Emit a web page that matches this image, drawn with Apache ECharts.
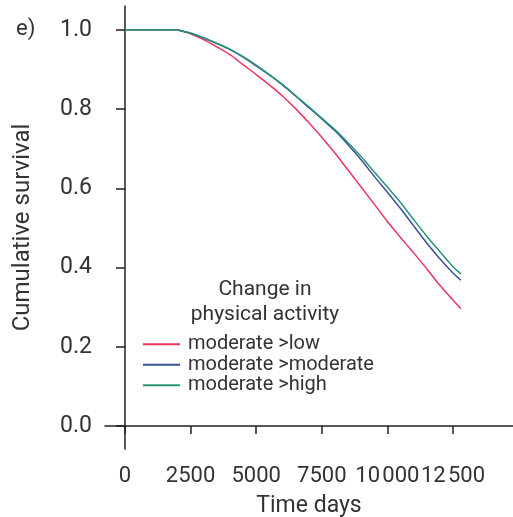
<!DOCTYPE html>
<html>
<head>
<meta charset="utf-8">
<script src="https://cdn.jsdelivr.net/npm/echarts@6/dist/echarts.min.js"></script>
<style>html,body{margin:0;padding:0;background:#fff}#c{width:513px;height:517px}</style>
</head>
<body>
<div id="c"></div>
<script>
var days = [0, 2000, 2100, 2500, 3000, 3500, 4000, 4500, 5000, 5500, 6000, 6500, 7000, 7500, 8000, 8500, 9000, 9500, 10000, 10500, 11000, 11500, 12000, 12500, 12800];
var lowSurv = [1.0, 1.0, 0.998, 0.99, 0.975, 0.957, 0.937, 0.912, 0.887, 0.861, 0.833, 0.801, 0.766, 0.729, 0.689, 0.646, 0.603, 0.560, 0.516, 0.476, 0.437, 0.397, 0.355, 0.318, 0.296];
var modSurv = [1.0, 1.0, 0.998, 0.991, 0.979, 0.965, 0.950, 0.931, 0.909, 0.886, 0.861, 0.833, 0.804, 0.775, 0.745, 0.710, 0.672, 0.630, 0.590, 0.549, 0.505, 0.462, 0.422, 0.386, 0.368];
var highSurv = [1.0, 1.0, 0.998, 0.992, 0.980, 0.966, 0.951, 0.932, 0.911, 0.887, 0.862, 0.834, 0.806, 0.777, 0.748, 0.715, 0.680, 0.641, 0.603, 0.564, 0.521, 0.479, 0.440, 0.402, 0.384];
var xTicks = [0, 2500, 5000, 7500, 10000, 12500];
var xTickLabels = ['0', '2500', '5000', '7500', '10\u200A000', '12\u200A500'];
var yTicks = [0, 0.2, 0.4, 0.6, 0.8, 1.0];
var seriesNames = ['moderate >low', 'moderate >moderate', 'moderate >high'];
var colors = ['#e8365c', '#3d4f9f', '#2a9477'];

function pairs(v){ return days.map(function(d,i){ return [d, v[i]]; }); }
var font = 'Roboto, "DejaVu Sans", sans-serif';
var txt = '#333';
var chart = echarts.init(document.getElementById('c'), null, {renderer: 'canvas'});
chart.setOption({
  animation: false,
  color: colors,
  grid: {left: 105, right: 0, top: 6, bottom: 68, containLabel: false, outerBoundsMode: 'none'},
  xAxis: {
    type: 'value', min: -762, max: 14787,
    name: 'Time days', nameLocation: 'middle', nameGap: 46,
    nameTextStyle: {fontFamily: font, fontSize: 23, color: txt},
    axisLine: {show: true, lineStyle: {color: '#222', width: 1.5}},
    axisTick: {show: true, customValues: xTicks, length: 8, lineStyle: {color: '#222', width: 1.5}},
    axisLabel: {customValues: xTicks, margin: 16, hideOverlap: false, showMinLabel: null, showMaxLabel: null,
      fontFamily: font, fontSize: 22, color: txt,
      formatter: function(v){ var i = xTicks.indexOf(v); return i >= 0 ? xTickLabels[i] : ''; }},
    splitLine: {show: false}
  },
  yAxis: {
    type: 'value', min: -0.058, max: 1.06,
    name: 'Cumulative survival', nameLocation: 'middle', nameGap: 70, nameRotate: 90,
    nameTextStyle: {fontFamily: font, fontSize: 24, color: txt},
    axisLine: {show: true, lineStyle: {color: '#222', width: 1.5}},
    axisTick: {show: true, customValues: yTicks, length: 9, lineStyle: {color: '#222', width: 1.5}},
    axisLabel: {customValues: yTicks, margin: 13, fontFamily: font, fontSize: 23, color: txt,
      formatter: function(v){ return v.toFixed(1); }},
    splitLine: {show: false}
  },
  legend: {
    orient: 'vertical', left: 143, top: 334, itemWidth: 37, itemHeight: 2, itemGap: 0,
    icon: 'rect',
    data: seriesNames,
    textStyle: {fontFamily: font, fontSize: 20, color: txt, lineHeight: 20.5, height: 20.5, padding: [0,0,0,3]},
    padding: 0
  },
  graphic: [
    {type: 'text', left: 16, top: 18, style: {text: 'e)', fontFamily: font, fontSize: 22, fill: txt}},
    {type: 'text', x: 265, y: 302, style: {text: 'Change in\nphysical activity', fontFamily: font, fontSize: 21, lineHeight: 25, fill: txt, align: 'center', verticalAlign: 'middle'}}
  ],
  series: [
    {name: seriesNames[0], type: 'line', data: pairs(lowSurv), symbol: 'none', smooth: 0.3, lineStyle: {width: 1.5, color: colors[0]}},
    {name: seriesNames[1], type: 'line', data: pairs(modSurv), symbol: 'none', smooth: 0.3, lineStyle: {width: 1.5, color: colors[1]}},
    {name: seriesNames[2], type: 'line', data: pairs(highSurv), symbol: 'none', smooth: 0.3, lineStyle: {width: 1.5, color: colors[2]}}
  ]
});
</script>
</body>
</html>
